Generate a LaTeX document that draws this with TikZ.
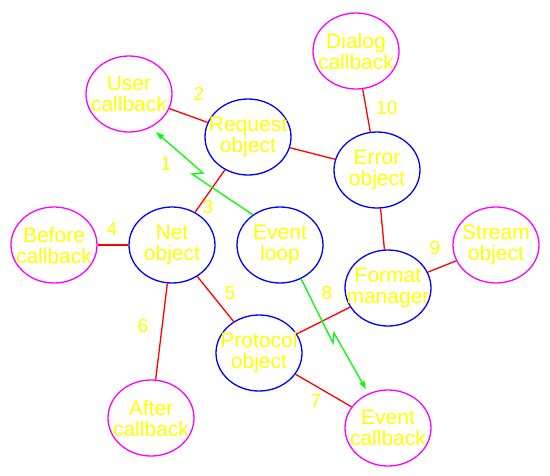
\documentclass[tikz,border=0pt]{standalone}
\usepackage{fontspec}
\setmainfont{Liberation Sans}
\usetikzlibrary{shapes.geometric,arrows.meta}
\definecolor{cbmagenta}{RGB}{255,0,255}
\definecolor{txtyellow}{RGB}{255,255,0}
\definecolor{objblue}{RGB}{0,0,255}
\definecolor{linkred}{RGB}{255,0,0}
\definecolor{zapgreen}{RGB}{0,255,0}
\newcommand{\BoxFont}{\fontsize{21}{21}\selectfont}
\newcommand{\NumFont}{\fontsize{19}{19}\selectfont}

\begin{document}
\begin{tikzpicture}[x=1pt,y=-1pt,
		obj/.style={draw=objblue, line width=1.3pt, ellipse, minimum width=86pt, minimum height=76pt, inner sep=0pt},
		cb/.style={obj, draw=cbmagenta},
		link/.style={draw=linkred, line width=1.3pt},
		zap/.style={draw=zapgreen, line width=1.3pt, -{Latex[length=9pt,width=6pt]}},
		num/.style={text=txtyellow, font=\NumFont, inner sep=0pt},
		every label/.style={text=txtyellow, align=center, font=\BoxFont, inner sep=0pt}]
	\useasboundingbox (0,0) rectangle (550,475);
	% objects
	\node[obj, label={center:Request\\object}] (req) at (248,137) {};
	\node[obj, label={center:Error\\object}] (err) at (377,170) {};
	\node[obj, label={center:Net\\object}] (net) at (172,245) {};
	\node[obj, label={center:Event\\loop}] (ev) at (280,245) {};
	\node[obj, label={center:Format\\manager}] (fmt) at (388,288) {};
	\node[obj, label={center:Protocol\\object}] (prot) at (259,353) {};
	% callbacks
	\node[cb, label={center:User\\callback}] (usr) at (129,94) {};
	\node[cb, label={center:Dialog\\callback}] (dlg) at (356,51) {};
	\node[cb, label={center:Before\\callback}] (bef) at (54,245) {};
	\node[cb, label={center:Stream\\object}] (strm) at (496,245) {};
	\node[cb, label={center:After\\callback}] (aft) at (151,418) {};
	\node[cb, label={center:Event\\callback}] (ecb) at (388,428) {};
	% links
	\draw[link] (usr) -- (req);
	\draw[link] (req) -- (err);
	\draw[link] (dlg) -- (err);
	\draw[link] (req) -- (net);
	\draw[link] (bef) -- (net);
	\draw[link] (net) -- (prot);
	\draw[link] (net) -- (aft);
	\draw[link] (prot) -- (ecb);
	\draw[link] (prot) -- (fmt);
	\draw[link] (fmt) -- (strm);
	\draw[link] (err) -- (fmt);
	% events
	\draw[zap, shorten >=6pt] (ev.132) -- (192,174) -- (203,173) -- (usr.-57);
	\draw[zap, shorten >=4pt] (ev.-58) -- (333,343) -- (334,333) -- (ecb);
	% numbers
	\node[num] (n1) at (166,164) {1};
	\node[num] (n2) at (199,94) {2};
	\node[num] (n3) at (208,207) {3};
	\node[num] (n4) at (112,229) {4};
	\node[num] (n5) at (230,293) {5};
	\node[num] (n6) at (143,326) {6};
	\node[num] (n7) at (316,401) {7};
	\node[num] (n8) at (327,293) {8};
	\node[num] (n9) at (435,248) {9};
	\node[num] (n10) at (387,108) {10};
\end{tikzpicture}
\end{document}
